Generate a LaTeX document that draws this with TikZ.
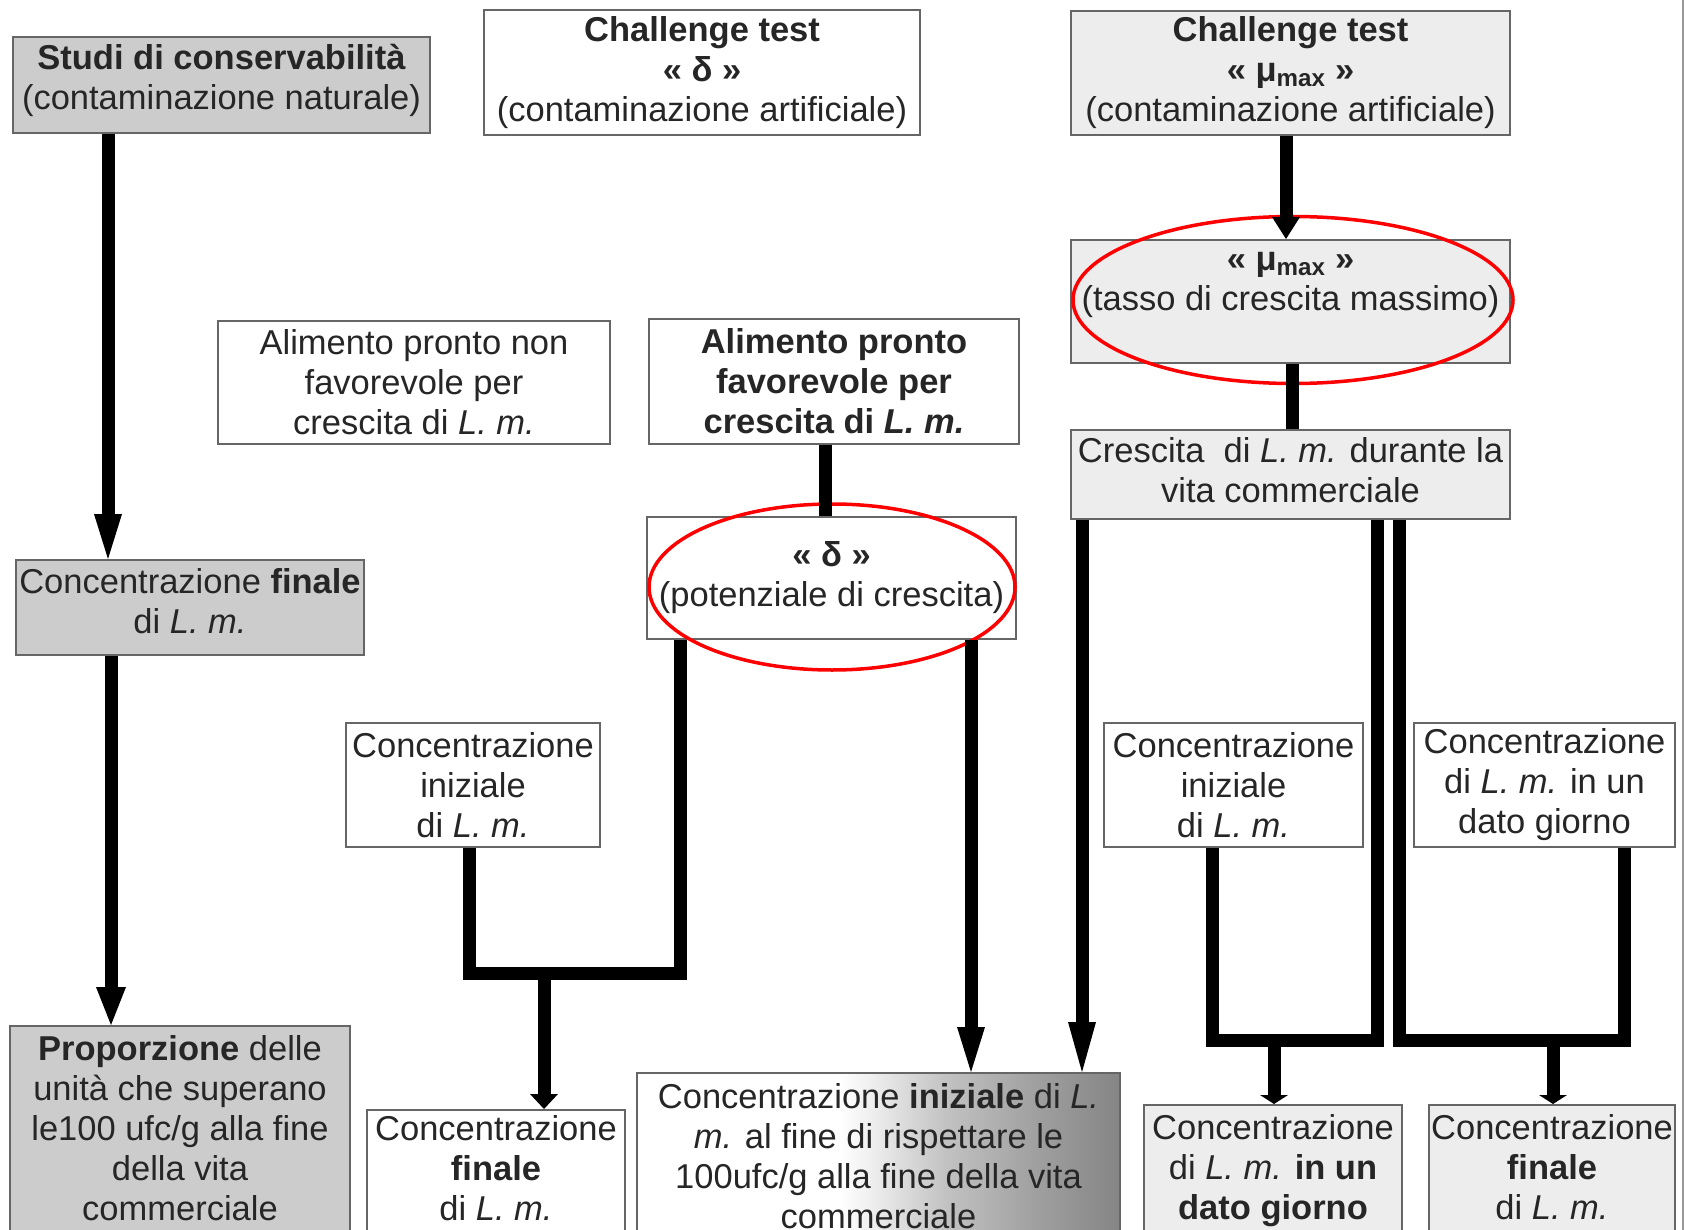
\documentclass[tikz,border=0pt]{standalone}
\usepackage{fontspec}
\setmainfont{Liberation Sans}
\usetikzlibrary{arrows.meta}
\pgfdeclarelayer{bg}
\pgfsetlayers{bg,main}
\pgfdeclarehorizontalshading{oshade}{100bp}{color(0bp)=(white); color(25bp)=(white); color(46bp)=(white); color(50bp)=(black!8); color(57bp)=(black!24); color(66bp)=(black!37); color(75bp)=(black!48); color(100bp)=(black!48)}
\begin{document}
\begin{tikzpicture}[x=1pt,y=-1pt,
  box/.style={draw=black!60, line width=2pt, inner sep=0pt, align=center, text=black!85,
              font=\fontsize{34.5}{40}\selectfont},
  wbox/.style={box, fill=white},
  gbox/.style={box, fill=black!20},
  lbox/.style={box, fill=black!7},
  flow/.style={line width=13pt, line join=miter, draw=black},
  ring/.style={draw=red, line width=3.5pt}
]
\useasboundingbox (0,0) rectangle (1685,1230);
\fill[white] (0,0) rectangle (1685,1230);
\clip (0,0) rectangle (1685,1230);

% boxes
\node[gbox, minimum width=417pt, minimum height=96pt] (A) at (221.5,85)
  {\textbf{Studi di conservabilità}\\(contaminazione naturale)\\[-23pt]~};
\node[wbox, minimum width=436pt, minimum height=125pt] (B) at (702,72.5)
  {\textbf{Challenge test}\\\textbf{« δ »}\\(contaminazione artificiale)};
\node[lbox, minimum width=439pt, minimum height=124pt] (C) at (1290.5,73)
  {\textbf{Challenge test}\\\textbf{« μ\textsubscript{max} »}\\(contaminazione artificiale)};
\node[wbox, minimum width=392pt, minimum height=123pt] (D) at (414,382.5)
  {Alimento pronto non\\favorevole per\\crescita di \textit{L. m.}};
\node[wbox, minimum width=370pt, minimum height=125pt] (E) at (834,381.5)
  {\textbf{Alimento pronto}\\\textbf{favorevole per}\\\textbf{crescita di \textit{L. m.}}};
\node[lbox, minimum width=439pt, minimum height=123pt] (F) at (1290.5,301.5)
  {\textbf{« μ\textsubscript{max} »}\\(tasso di crescita massimo)\\~};
\node[lbox, minimum width=439pt, minimum height=89pt] (G) at (1290.5,474.5)
  {Crescita\ \ di \textit{L. m.} durante la\\vita commerciale\\[-31pt]~};
\node[wbox, minimum width=369pt, minimum height=122pt] (H) at (831.5,578)
  {\textbf{« δ »}\\(potenziale di crescita)};
\node[gbox, minimum width=348pt, minimum height=95pt] (I) at (190,607.5)
  {Concentrazione \textbf{finale}\\di \textit{L. m.}\\[-27pt]~};
\node[wbox, minimum width=254pt, minimum height=124pt] (J) at (473,785)
  {Concentrazione\\iniziale\\di \textit{L. m.}};
\node[wbox, minimum width=259pt, minimum height=124pt] (K) at (1233.5,785)
  {Concentrazione\\iniziale\\di \textit{L. m.}};
\node[wbox, minimum width=261pt, minimum height=124pt] (L) at (1544.5,785)
  {Concentrazione\\di \textit{L. m.} in un\\dato giorno};
\node[gbox, minimum width=340pt, minimum height=244pt] (M) at (180,1148)
  {\textbf{Proporzione} delle\\unità che superano\\le100 ufc/g alla fine\\della vita\\commerciale\\~};
\node[wbox, minimum width=258pt, minimum height=156pt] (N) at (496,1188)
  {Concentrazione\\\textbf{finale}\\di \textit{L. m.}\\~};
\node[box, shade, shading=oshade, minimum width=483pt, minimum height=206pt] (O) at (878.5,1176)
  {Concentrazione \textbf{iniziale} di \textit{L.}\\\textit{m.} al fine di rispettare le\\100ufc/g alla fine della vita\\commerciale\\~};
\node[lbox, minimum width=258pt, minimum height=164pt] (P) at (1273,1187)
  {Concentrazione\\di \textit{L. m.} \textbf{in un}\\\textbf{dato giorno}\\~};
\node[lbox, minimum width=246pt, minimum height=164pt] (Q) at (1552,1187)
  {Concentrazione\\\textbf{finale}\\di \textit{L. m.}\\~};

% red highlight rings
\draw[ring] (1293,300) ellipse [x radius=220pt, y radius=83.5pt];
\draw[ring] (832,587) ellipse [x radius=183pt, y radius=83pt];

% columns and junction rows
\coordinate (cA) at (108,0);
\coordinate (cI) at (111,0);
\coordinate (sB1) at (641,0);
\coordinate (sB2) at (722,0);
\coordinate (tD) at (467,313);
\coordinate (tE) at (856,312);
\coordinate (cC) at (1286,0);
\coordinate (cF) at (1292,0);
\coordinate (cE) at (825,0);
\coordinate (cJ) at (469,0);
\coordinate (cH1) at (680,0);
\coordinate (cN) at (544,0);
\coordinate (cH2) at (971,0);
\coordinate (cG1) at (1082,0);
\coordinate (cK) at (1212,0);
\coordinate (cG2) at (1377,0);
\coordinate (cP) at (1274,0);
\coordinate (cG3) at (1399,0);
\coordinate (cL) at (1624,0);
\coordinate (cQ) at (1553,0);
\coordinate (b1) at (0,973);
\coordinate (b2) at (0,1040);

% connectors
\begin{pgfonlayer}{bg}
\draw[flow, line width=15pt, -{Triangle[width=38pt,length=32pt,line width=0pt]}] (B.south -| sB1) -- (tD);
\draw[flow, line width=15pt, -{Triangle[width=38pt,length=32pt,line width=0pt]}] (B.south -| sB2) -- (tE);
\end{pgfonlayer}
\draw[flow, -{Triangle[width=28pt,length=45pt,line width=0pt]}] (A.south -| cA) -- (I.north -| cA);
\draw[flow, -{Triangle[width=30pt,length=38pt,line width=0pt]}] (I.south -| cI) -- (M.north -| cI);
\draw[flow, -{Triangle[width=28pt,length=22pt,line width=0pt]}] (C.south -| cC) -- (F.north -| cC);
\draw[flow] (F.south -| cF) -- (G.north -| cF);
\draw[flow] (E.south -| cE) -- (H.north -| cE);
\draw[flow] (J.south -| cJ) -- (cJ |- b1) -- (cH1 |- b1) -- (H.south -| cH1);
\draw[flow, -{Triangle[width=28pt,length=15pt,line width=0pt]}] (cN |- b1) -- (N.north -| cN);
\draw[flow, -{Triangle[width=28pt,length=45pt,line width=0pt]}] (H.south -| cH2) -- (O.north -| cH2);
\draw[flow, -{Triangle[width=28pt,length=50pt,line width=0pt]}] (G.south -| cG1) -- (O.north -| cG1);
\draw[flow] (K.south -| cK) -- (cK |- b2) -- (cG2 |- b2) -- (G.south -| cG2);
\draw[flow, -{Triangle[width=28pt,length=9pt,line width=0pt]}] (cP |- b2) -- (P.north -| cP);
\draw[flow] (G.south -| cG3) -- (cG3 |- b2) -- (cL |- b2) -- (L.south -| cL);
\draw[flow, -{Triangle[width=28pt,length=9pt,line width=0pt]}] (cQ |- b2) -- (Q.north -| cQ);

% right edge rule
\draw[black!40, line width=1.5pt] (1683,0) -- (1683,1230);
\end{tikzpicture}
\end{document}
